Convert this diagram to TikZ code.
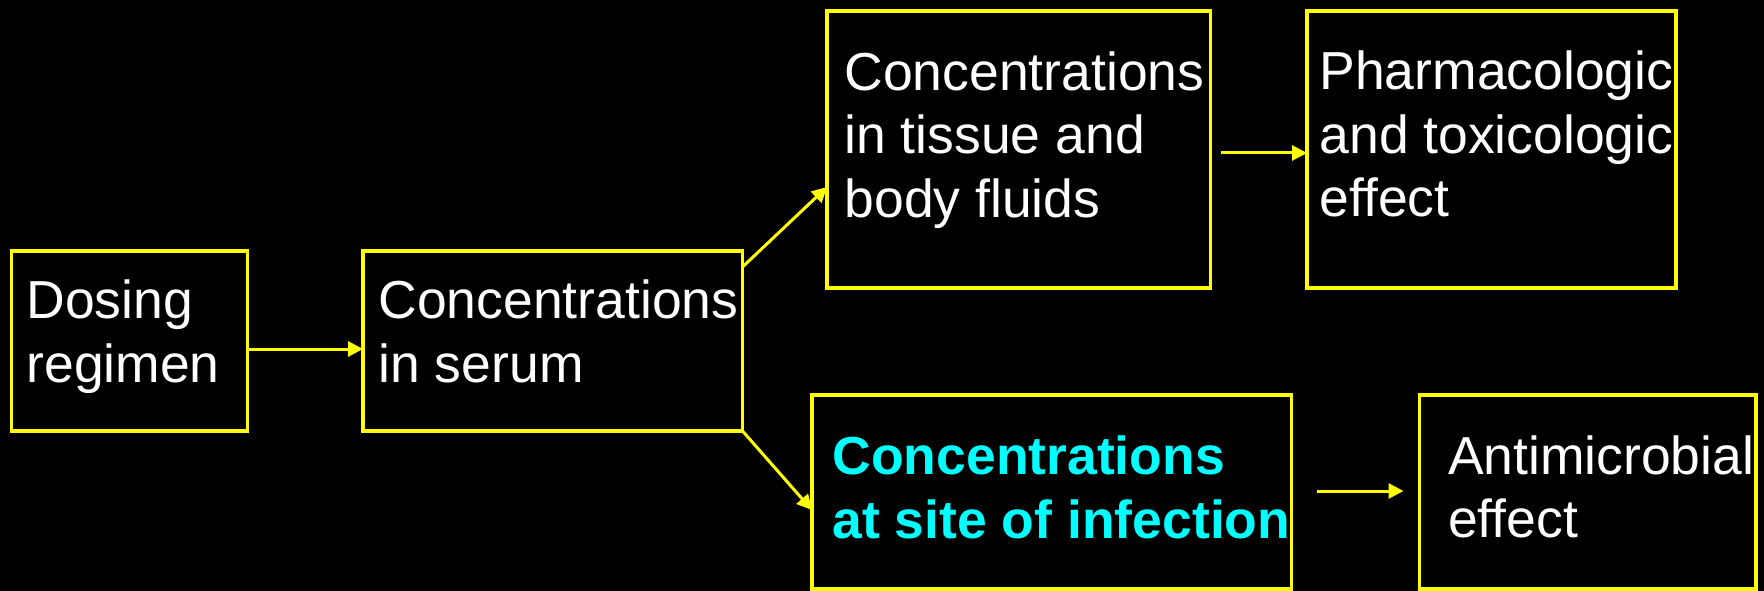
\documentclass[tikz,border=0pt]{standalone}
\usepackage{fontspec}
\setmainfont{Liberation Sans}
\usetikzlibrary{arrows.meta}
\definecolor{yel}{HTML}{FFFF00}
\definecolor{cya}{HTML}{00FFFF}
\tikzset{
  box/.style={draw=yel, line width=3.2pt, rectangle, inner sep=0pt, outer sep=0pt},
  txt/.style={anchor=base west, inner sep=0pt, outer sep=0pt, align=left, text=white,
    font=\fontsize{53.5}{63.5}\selectfont},
  hot/.style={txt, text=cya, font=\fontsize{53.5}{63.5}\selectfont\bfseries},
  arr/.style={draw=yel, line width=3pt, -{Triangle[length=15pt,width=15pt]}}
}
\begin{document}
\begin{tikzpicture}[x=1pt,y=-1pt]
\useasboundingbox (0,0) rectangle (1764,591);
\fill[black] (0,0) rectangle (1764,591);
% boxes
\node[box, minimum width=236pt, minimum height=180pt] (dose) at (129.5,341) {};
\node[box, minimum width=379.5pt, minimum height=180pt] (serum) at (552.75,341) {};
\node[box, minimum width=383.5pt, minimum height=277pt] (tissue) at (1018.75,149.5) {};
\node[box, minimum width=369pt, minimum height=277pt] (pharma) at (1491.5,149.5) {};
\node[box, minimum width=479.5pt, minimum height=194pt] (site) at (1051.75,492) {};
\node[box, minimum width=336.5pt, minimum height=194pt] (anti) at (1587.75,492) {};
% texts (anchor at baseline of the last line)
\node[txt] (dose-t) at (26.5,382) {Dosing\\regimen};
\node[txt] (serum-t) at (378.5,382) {Concentrations\\in serum};
\node[txt] (tissue-t) at (844.5,217) {Concentrations\\in tissue and\\body fluids};
\node[txt] (pharma-t) at (1319.5,216.7) {Pharmacologic\\and toxicologic\\effect};
\node[hot] (site-t) at (832.5,538) {Concentrations\\at site of infection};
\node[txt] (anti-t) at (1448,537.7) {Antimicrobial\\effect};
% connectors
\draw[arr] ([yshift=-8pt]dose.east) -- ([yshift=-8pt]serum.west);
\draw[arr] ([yshift=-16pt]serum.north east) -- ([yshift=-37.5pt]tissue.west);
\draw[arr] (serum.south east) -- ([yshift=-18pt]site.west);
\draw[arr] ([xshift=10pt,yshift=-3.5pt]tissue.east) -- ([yshift=-3.5pt]pharma.west);
\draw[arr] ([xshift=25pt,yshift=1pt]site.east) -- ([xshift=-16pt,yshift=1pt]anti.west);
\end{tikzpicture}
\end{document}
